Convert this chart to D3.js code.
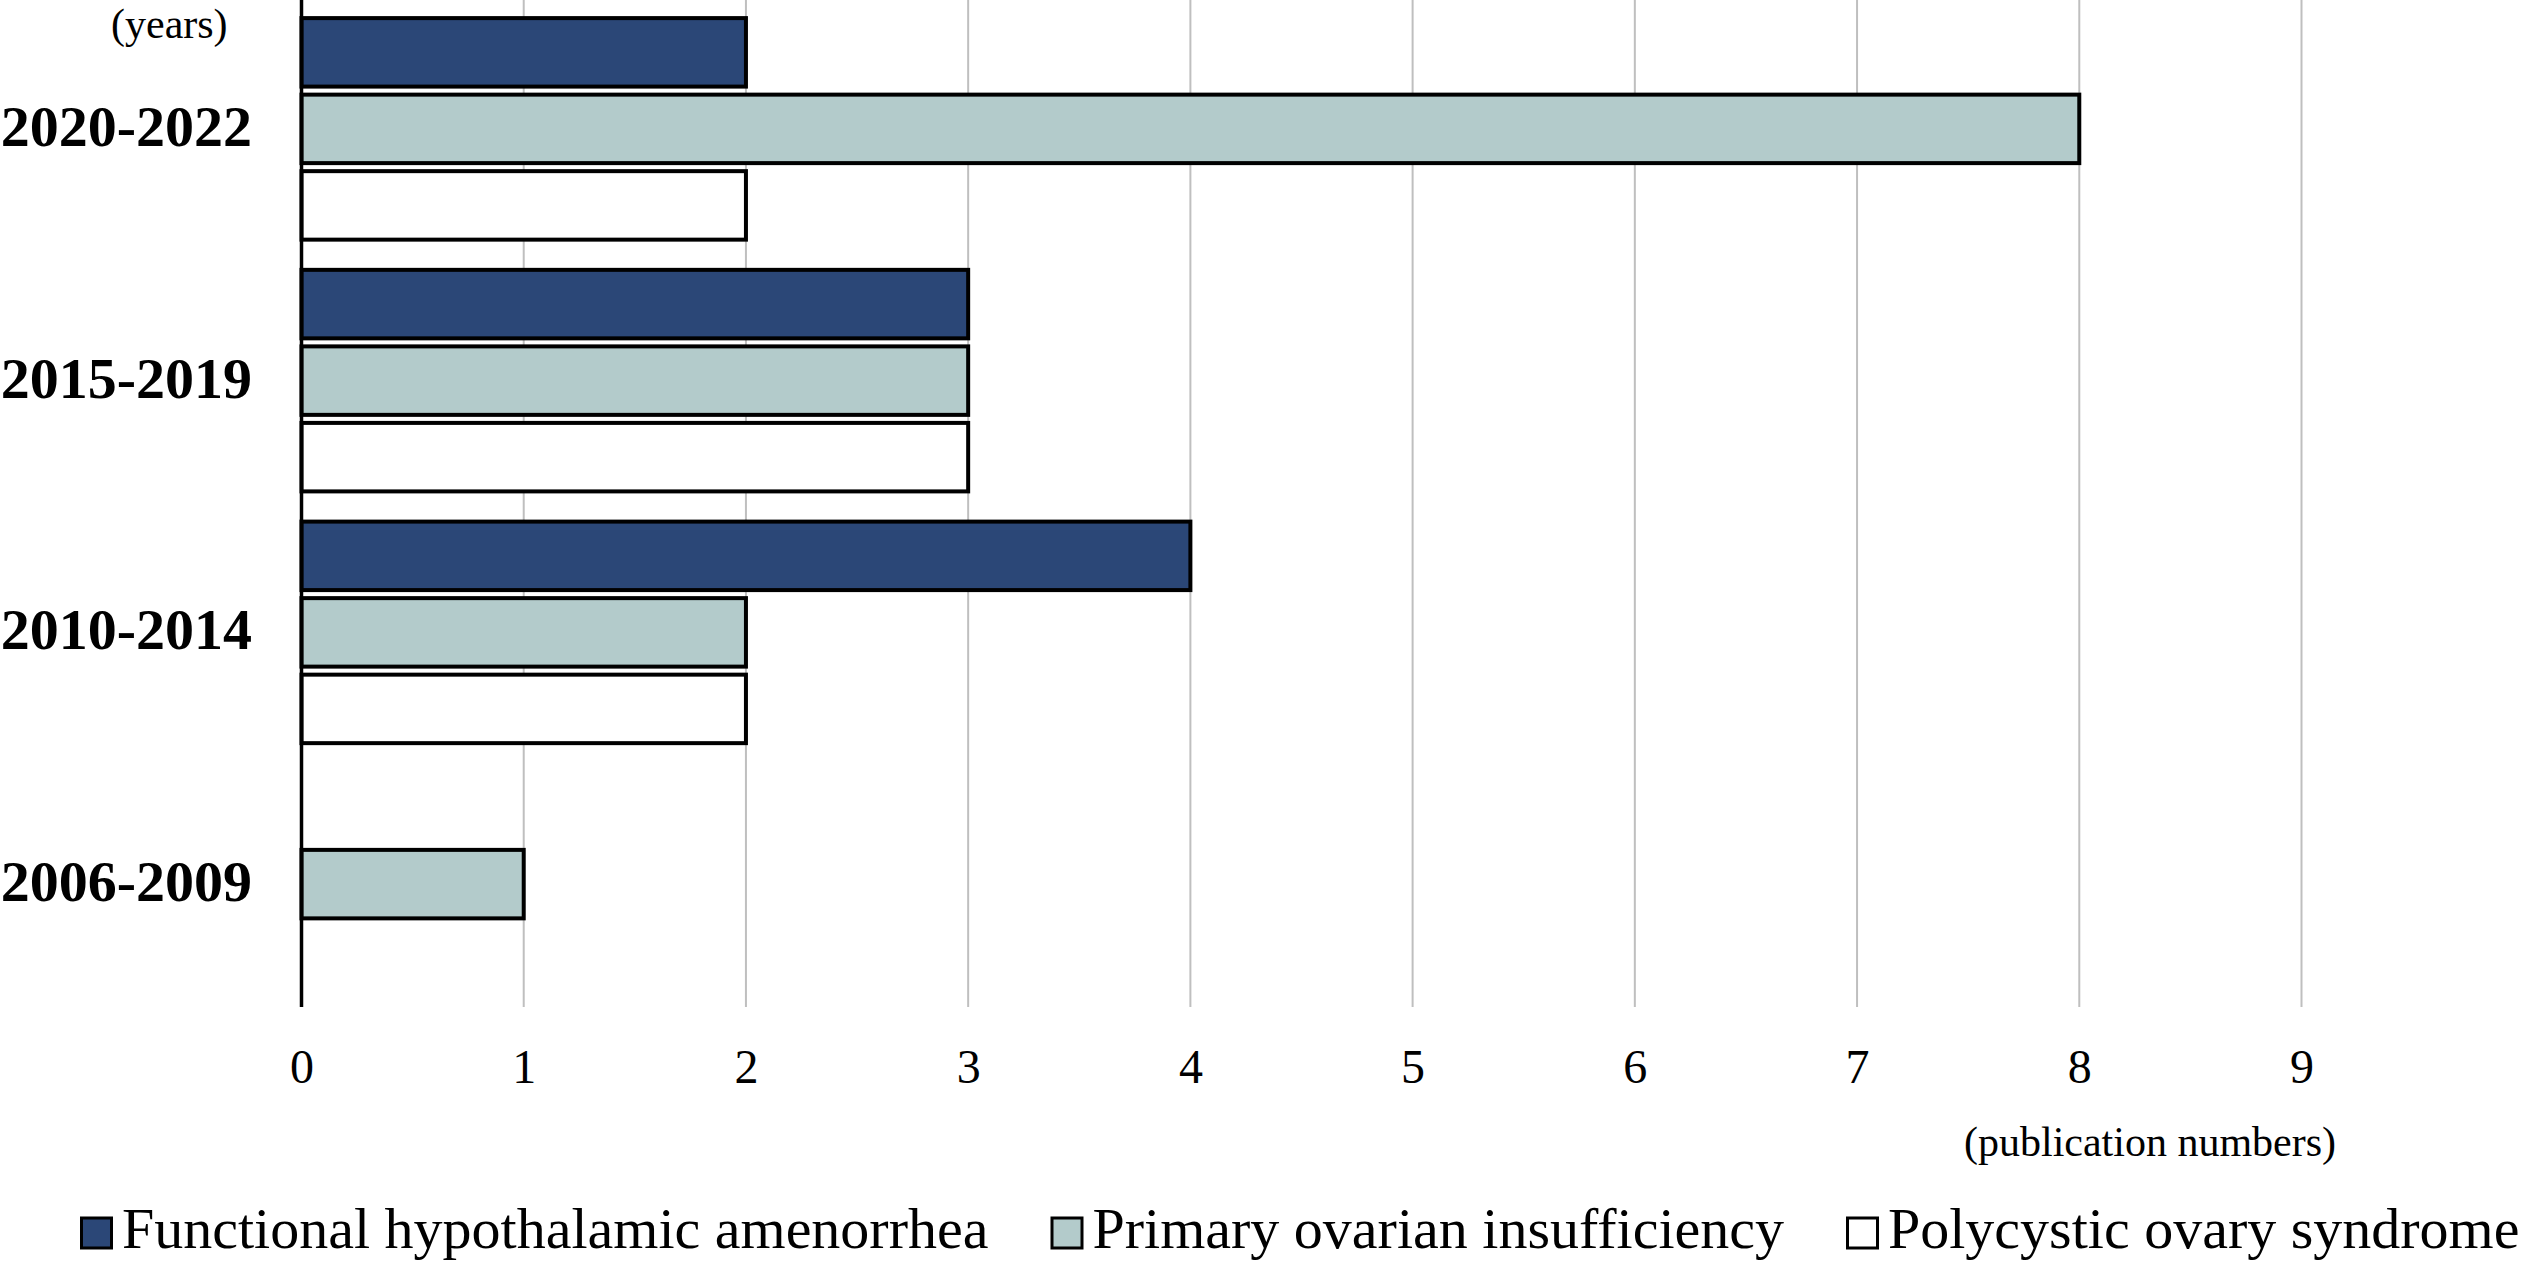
<!DOCTYPE html>
<html>
<head>
<meta charset="utf-8">
<script src="https://cdn.jsdelivr.net/npm/d3@7"></script>
<style>
  html,body{margin:0;padding:0;background:#fff}
  svg{display:block}
  text{font-family:"Liberation Serif","Times New Roman",serif;fill:#000}
</style>
</head>
<body>
<svg id="chart" width="2523" height="1262"></svg>
<script>
// data (top to bottom as drawn)
const periods = ['2020-2022','2015-2019','2010-2014','2006-2009']
const seriesNames = ['Functional hypothalamic amenorrhea','Primary ovarian insufficiency','Polycystic ovary syndrome']
const fha  = [2, 3, 4, 0]
const poi  = [8, 3, 2, 1]
const pcos = [2, 3, 2, 0]
const xTicks = [0,1,2,3,4,5,6,7,8,9]
const colors = ['#2b4777','#b3cbcb','#ffffff']

const svg = d3.select('#chart')
const plot = {left:301.5, right:2301.5, top:0, bottom:1007}

const x = d3.scaleLinear().domain([0,9]).range([plot.left, plot.right])
const y0 = d3.scaleBand().domain(periods).range([3, 1010]).paddingInner(0.12).paddingOuter(0.06)
const y1 = d3.scaleBand().domain(seriesNames).range([0, y0.bandwidth()]).paddingInner(0.105)

const rows = periods.map((p,i)=>({period:p, values:[fha[i], poi[i], pcos[i]]}))

// gridlines
svg.append('g').selectAll('line').data(xTicks.filter(t=>t>0)).enter().append('line')
  .attr('x1', d=>x(d)).attr('x2', d=>x(d))
  .attr('y1', plot.top).attr('y2', plot.bottom)
  .attr('stroke', '#bfbfbf').attr('stroke-width', 2)

// bars
const groups = svg.append('g').selectAll('g').data(rows).enter().append('g')
  .attr('transform', d=>`translate(0,${y0(d.period)})`)
groups.selectAll('rect').data(d=>d.values.map((v,k)=>({v, k, name:seriesNames[k]})).filter(e=>e.v>0))
  .enter().append('rect')
  .attr('x', x(0))
  .attr('y', e=>y1(e.name))
  .attr('width', e=>x(e.v)-x(0))
  .attr('height', y1.bandwidth())
  .attr('fill', e=>colors[e.k])
  .attr('stroke', '#000').attr('stroke-width', 4)

// vertical axis line
svg.append('line').attr('x1', x(0)).attr('x2', x(0)).attr('y1', plot.top).attr('y2', plot.bottom)
  .attr('stroke', '#000').attr('stroke-width', 3.5)

// category labels
svg.append('g').selectAll('text').data(periods).enter().append('text')
  .attr('x', 252).attr('y', d=>y0(d)+y0.bandwidth()/2+17)
  .attr('text-anchor', 'end').attr('font-size', 58).attr('font-weight', 'bold')
  .text(d=>d)

svg.append('text').attr('x', 111).attr('y', 38).attr('font-size', 42).text('(years)')

// x tick labels
const xAxis = d3.axisBottom(x).tickValues(xTicks).tickSize(0).tickPadding(0).tickFormat(d3.format('d'))
const ax = svg.append('g').attr('transform', 'translate(0,1083)').call(xAxis)
ax.select('.domain').remove()
ax.selectAll('text').attr('dy', 0).attr('y', 0).attr('font-size', 48)
  .attr('font-family', '"Liberation Serif","Times New Roman",serif').attr('fill', '#000')

svg.append('text').attr('x', 1964).attr('y', 1156).attr('font-size', 42).text('(publication numbers)')

// legend
const legend = svg.append('g')
let lx = 80
seriesNames.forEach((n,k)=>{
  const item = legend.append('g').attr('transform', `translate(${lx},0)`)
  item.append('rect').attr('x', 1.5).attr('y', 1218).attr('width', 30).attr('height', 30)
    .attr('fill', colors[k]).attr('stroke', '#000').attr('stroke-width', 3)
  const t = item.append('text').attr('x', 42).attr('y', 1248).attr('font-size', 58).text(n)
  lx += 42 + t.node().getComputedTextLength() + 62
})
</script>
</body>
</html>
